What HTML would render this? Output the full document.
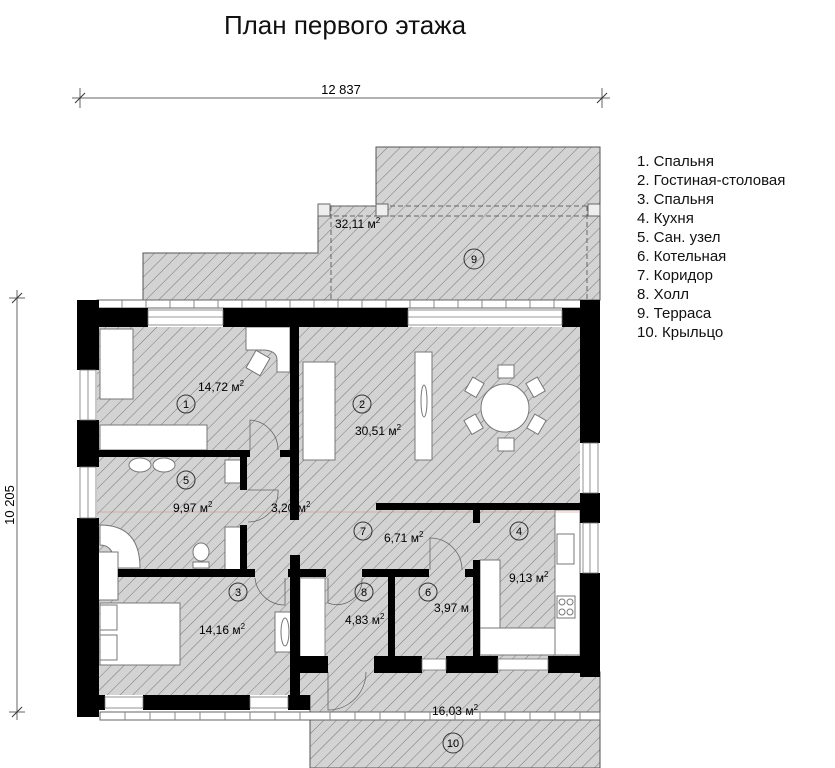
<!DOCTYPE html>
<html><head><meta charset="utf-8"><style>
html,body{margin:0;padding:0;background:#fff;}
svg{display:block;font-family:"Liberation Sans",sans-serif;}
</style></head><body>
<svg width="835" height="768" viewBox="0 0 835 768" xmlns="http://www.w3.org/2000/svg">
<defs>
<pattern id="h" patternUnits="userSpaceOnUse" width="9" height="9" patternTransform="rotate(45)">
<rect width="9" height="9" fill="#d3d3d3"/><line x1="0" y1="0" x2="0" y2="9" stroke="#767676" stroke-width="1"/>
</pattern>
</defs>
<text x="345" y="34" font-size="26" text-anchor="middle" fill="#111">План первого этажа</text>
<!-- dimension -->
<line x1="72" y1="98" x2="610" y2="98" stroke="#666"/>
<line x1="80" y1="88" x2="80" y2="108" stroke="#666"/><line x1="75" y1="103" x2="85" y2="93" stroke="#333"/>
<line x1="602" y1="88" x2="602" y2="108" stroke="#666"/><line x1="597" y1="103" x2="607" y2="93" stroke="#333"/>
<text x="341" y="94" font-size="13" text-anchor="middle">12 837</text>
<line x1="17" y1="290" x2="17" y2="720" stroke="#666"/>
<line x1="9" y1="298" x2="25" y2="298" stroke="#666"/><line x1="12" y1="303" x2="22" y2="293" stroke="#333"/>
<line x1="9" y1="712" x2="25" y2="712" stroke="#666"/><line x1="12" y1="717" x2="22" y2="707" stroke="#333"/>
<text x="14" y="505" font-size="13" text-anchor="middle" transform="rotate(-90 14 505)">10 205</text>
<!-- terrace 9 -->
<polygon points="376,147 600,147 600,300 143,300 143,253 318,253 318,206 376,206" fill="url(#h)" stroke="#555"/>
<line x1="318" y1="206" x2="600" y2="206" stroke="#666" stroke-dasharray="5,3"/>
<line x1="318" y1="216" x2="600" y2="216" stroke="#666" stroke-dasharray="5,3"/>
<line x1="331" y1="206" x2="331" y2="300" stroke="#666" stroke-dasharray="5,3"/>
<line x1="587" y1="206" x2="587" y2="300" stroke="#666" stroke-dasharray="5,3"/>
<rect x="318" y="204" width="12" height="12" fill="#eee" stroke="#666"/>
<rect x="376" y="204" width="12" height="12" fill="#eee" stroke="#666"/>
<rect x="588" y="204" width="12" height="12" fill="#eee" stroke="#666"/>
<text x="335" y="228" font-size="12">32,11 м<tspan font-size="8" dy="-5">2</tspan></text>
<circle cx="474" cy="259" r="10" fill="none" stroke="#333"/><text x="474" y="263" font-size="11" text-anchor="middle">9</text>
<!-- top railing -->
<rect x="97" y="300" width="492" height="8" fill="#fff" stroke="#666"/>
<g stroke="#888">
<line x1="122" y1="300" x2="122" y2="308"/><line x1="146" y1="300" x2="146" y2="308"/><line x1="170" y1="300" x2="170" y2="308"/><line x1="194" y1="300" x2="194" y2="308"/><line x1="218" y1="300" x2="218" y2="308"/><line x1="242" y1="300" x2="242" y2="308"/><line x1="266" y1="300" x2="266" y2="308"/><line x1="290" y1="300" x2="290" y2="308"/><line x1="314" y1="300" x2="314" y2="308"/><line x1="338" y1="300" x2="338" y2="308"/><line x1="362" y1="300" x2="362" y2="308"/><line x1="386" y1="300" x2="386" y2="308"/><line x1="410" y1="300" x2="410" y2="308"/><line x1="434" y1="300" x2="434" y2="308"/><line x1="458" y1="300" x2="458" y2="308"/><line x1="482" y1="300" x2="482" y2="308"/><line x1="506" y1="300" x2="506" y2="308"/><line x1="530" y1="300" x2="530" y2="308"/><line x1="554" y1="300" x2="554" y2="308"/>
</g>
<!-- porch 10 -->
<rect x="310" y="672" width="290" height="96" fill="url(#h)" stroke="#555"/>
<rect x="100" y="712" width="500" height="8" fill="#fff" stroke="#666"/>
<g stroke="#888"><line x1="125" y1="712" x2="125" y2="720"/><line x1="150" y1="712" x2="150" y2="720"/><line x1="175" y1="712" x2="175" y2="720"/><line x1="200" y1="712" x2="200" y2="720"/><line x1="225" y1="712" x2="225" y2="720"/><line x1="250" y1="712" x2="250" y2="720"/><line x1="275" y1="712" x2="275" y2="720"/><line x1="300" y1="712" x2="300" y2="720"/><line x1="330" y1="712" x2="330" y2="720"/><line x1="355" y1="712" x2="355" y2="720"/><line x1="380" y1="712" x2="380" y2="720"/><line x1="405" y1="712" x2="405" y2="720"/><line x1="430" y1="712" x2="430" y2="720"/><line x1="455" y1="712" x2="455" y2="720"/><line x1="480" y1="712" x2="480" y2="720"/><line x1="505" y1="712" x2="505" y2="720"/><line x1="530" y1="712" x2="530" y2="720"/><line x1="555" y1="712" x2="555" y2="720"/><line x1="580" y1="712" x2="580" y2="720"/></g>
<text x="455" y="715" font-size="12" text-anchor="middle">16,03 м<tspan font-size="8" dy="-5">2</tspan></text>
<circle cx="453" cy="743" r="10" fill="none" stroke="#333"/><text x="453" y="747" font-size="11" text-anchor="middle">10</text>
<!-- floors -->
<rect x="97" y="327" width="483" height="368" fill="url(#h)"/>
<rect x="300" y="578" width="25" height="79" fill="#fff" stroke="#888"/>
<!-- furniture -->
<g fill="#fff" stroke="#777">
<rect x="100" y="329" width="33" height="70"/>
<rect x="100" y="425" width="107" height="25"/>
<path d="M246,327 H290 V372 H277 V360 Q277,350 262,350 H246 Z"/>
<rect x="250" y="353" width="16" height="20" transform="rotate(30 258 363)"/>
<rect x="303" y="362" width="32" height="98"/>
<rect x="415" y="352" width="17" height="108"/>
<ellipse cx="424" cy="401" rx="3" ry="16"/>
<circle cx="505" cy="408" r="24"/>
<rect x="498" y="365" width="16" height="13"/><rect x="498" y="438" width="16" height="13"/>
<rect x="466" y="381" width="16" height="13" transform="rotate(-60 474 387)"/>
<rect x="528" y="381" width="16" height="13" transform="rotate(60 536 387)"/>
<rect x="466" y="418" width="16" height="13" transform="rotate(60 474 424)"/>
<rect x="528" y="418" width="16" height="13" transform="rotate(-60 536 424)"/>
<ellipse cx="140" cy="465" rx="11" ry="7"/><ellipse cx="164" cy="465" rx="11" ry="7"/>
<rect x="225" y="460" width="17" height="23"/><rect x="225" y="527" width="17" height="43"/>
<path d="M100,525 Q140,525 140,568 H115 Q115,545 100,545 Z"/>
<rect x="95" y="552" width="23" height="48"/>
<ellipse cx="201" cy="552" rx="8" ry="9"/><rect x="193" y="562" width="16" height="6"/>
<rect x="100" y="603" width="80" height="62"/>
<rect x="100" y="605" width="17" height="25"/><rect x="100" y="635" width="17" height="25"/>
<rect x="275" y="612" width="18" height="40"/>
<ellipse cx="285" cy="632" rx="4" ry="14"/>
<rect x="480" y="560" width="20" height="68"/>
<rect x="480" y="628" width="80" height="27"/>
<rect x="555" y="510" width="25" height="145"/>
<rect x="557" y="534" width="17" height="30"/>
<rect x="557" y="596" width="18" height="22"/>
<circle cx="562" cy="602" r="3"/><circle cx="570" cy="602" r="3"/><circle cx="562" cy="612" r="3"/><circle cx="570" cy="612" r="3"/>
</g>
<!-- door arcs -->
<g fill="none" stroke="#666" stroke-width="0.8">
<path d="M250,450 V420 A30,30 0 0 1 278,450"/>
<path d="M248,490 H278 A30,30 0 0 1 248,522"/>
<path d="M255,578 A30,30 0 0 0 285,605 V578"/>
<path d="M430,570 V538 A32,32 0 0 1 462,570"/>
<path d="M328,578 V603 A25,25 0 0 0 362,578"/>
<path d="M328,672 V710 A38,38 0 0 0 366,672"/>
</g>
<line x1="97" y1="512" x2="580" y2="512" stroke="#c88" stroke-width="0.6"/>
<!-- walls -->
<g fill="#000">
<rect x="77" y="300" width="22" height="70"/><rect x="77" y="420" width="22" height="47"/><rect x="77" y="518" width="22" height="199"/>
<rect x="97" y="308" width="51" height="19"/><rect x="223" y="308" width="185" height="19"/><rect x="562" y="308" width="38" height="19"/>
<rect x="580" y="300" width="20" height="143"/><rect x="580" y="493" width="20" height="30"/><rect x="580" y="573" width="20" height="104"/>
<rect x="290" y="327" width="9" height="193"/><rect x="290" y="555" width="10" height="155"/>
<rect x="97" y="450" width="153" height="7"/><rect x="280" y="450" width="15" height="7"/>
<rect x="240" y="455" width="7" height="35"/><rect x="240" y="525" width="7" height="46"/>
<rect x="118" y="569" width="137" height="8"/><rect x="288" y="569" width="38" height="8"/>
<rect x="376" y="503" width="204" height="7"/><rect x="473" y="503" width="7" height="20"/>
<rect x="362" y="569" width="67" height="8"/><rect x="465" y="569" width="15" height="8"/>
<rect x="388" y="569" width="7" height="88"/><rect x="473" y="560" width="7" height="97"/>
<rect x="290" y="656" width="38" height="17"/><rect x="374" y="656" width="48" height="17"/><rect x="446" y="656" width="52" height="17"/><rect x="548" y="656" width="32" height="17"/>
<rect x="97" y="695" width="8" height="15"/><rect x="143" y="695" width="107" height="15"/><rect x="288" y="695" width="22" height="15"/>
</g>
<!-- windows -->
<g fill="#fff" stroke="#777" stroke-width="0.8">
<rect x="148" y="310" width="75" height="15"/><line x1="148" y1="317" x2="223" y2="317"/>
<rect x="408" y="310" width="154" height="15"/><line x1="408" y1="317" x2="562" y2="317"/>
<rect x="80" y="370" width="16" height="50"/><line x1="88" y1="370" x2="88" y2="420"/>
<rect x="80" y="467" width="16" height="51"/><line x1="88" y1="467" x2="88" y2="518"/>
<rect x="583" y="443" width="15" height="50"/><line x1="590" y1="443" x2="590" y2="493"/>
<rect x="583" y="523" width="15" height="50"/><line x1="590" y1="523" x2="590" y2="573"/>
<rect x="105" y="697" width="38" height="11"/><rect x="250" y="697" width="38" height="11"/>
<rect x="422" y="659" width="24" height="11"/><rect x="498" y="659" width="50" height="11"/>
</g>
<!-- labels -->
<g font-size="11" text-anchor="middle">
<circle cx="186" cy="404" r="9" fill="none" stroke="#333"/><text x="186" y="408">1</text>
<circle cx="362" cy="404" r="9" fill="none" stroke="#333"/><text x="362" y="408">2</text>
<circle cx="238" cy="592" r="9" fill="none" stroke="#333"/><text x="238" y="596">3</text>
<circle cx="519" cy="531" r="9" fill="none" stroke="#333"/><text x="519" y="535">4</text>
<circle cx="186" cy="480" r="9" fill="none" stroke="#333"/><text x="186" y="484">5</text>
<circle cx="428" cy="592" r="9" fill="none" stroke="#333"/><text x="428" y="596">6</text>
<circle cx="363" cy="531" r="9" fill="none" stroke="#333"/><text x="363" y="535">7</text>
<circle cx="364" cy="592" r="9" fill="none" stroke="#333"/><text x="364" y="596">8</text>
</g>
<g font-size="12">
<text x="198" y="391">14,72 м<tspan font-size="8" dy="-5">2</tspan></text>
<text x="355" y="435">30,51 м<tspan font-size="8" dy="-5">2</tspan></text>
<text x="173" y="512">9,97 м<tspan font-size="8" dy="-5">2</tspan></text>
<text x="271" y="512">3,20 м<tspan font-size="8" dy="-5">2</tspan></text>
<text x="384" y="542">6,71 м<tspan font-size="8" dy="-5">2</tspan></text>
<text x="509" y="582">9,13 м<tspan font-size="8" dy="-5">2</tspan></text>
<text x="199" y="634">14,16 м<tspan font-size="8" dy="-5">2</tspan></text>
<text x="345" y="624">4,83 м<tspan font-size="8" dy="-5">2</tspan></text>
<text x="434" y="612">3,97 м</text>
</g>
<!-- legend -->
<g font-size="15" fill="#111">
<text x="637" y="166">1. Спальня</text>
<text x="637" y="185">2. Гостиная-столовая</text>
<text x="637" y="204">3. Спальня</text>
<text x="637" y="223">4. Кухня</text>
<text x="637" y="242">5. Сан. узел</text>
<text x="637" y="261">6. Котельная</text>
<text x="637" y="280">7. Коридор</text>
<text x="637" y="299">8. Холл</text>
<text x="637" y="318">9. Терраса</text>
<text x="637" y="337">10. Крыльцо</text>
</g>
</svg>
</body></html>
